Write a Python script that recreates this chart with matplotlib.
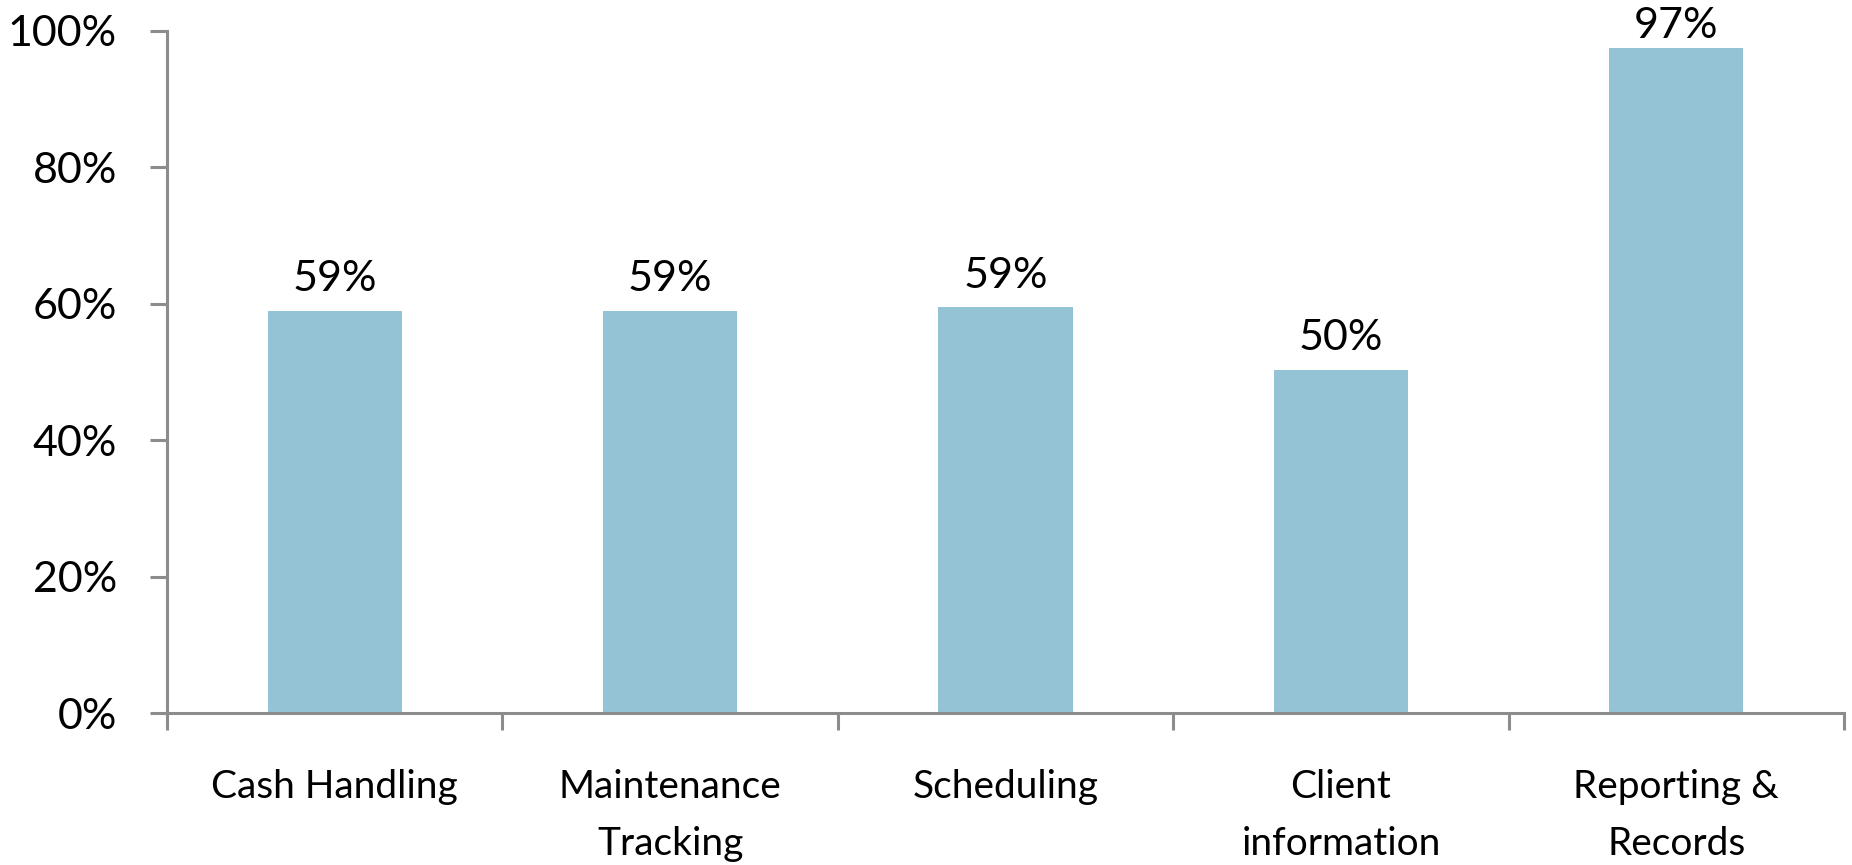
import matplotlib
matplotlib.use("Agg")
import matplotlib.pyplot as plt
from matplotlib.ticker import FuncFormatter, FixedLocator

categories = ["Cash Handling", "Maintenance\nTracking", "Scheduling", "Client\ninformation", "Reporting &\nRecords"]
values = [59.0, 59.0, 59.5, 50.3, 97.5]
value_labels = ["59%", "59%", "59%", "50%", "97%"]

plt.rcParams['font.family'] = ['Lato', 'DejaVu Sans']

bar_color = '#93c3d5'
axis_color = '#8c8c8c'
text_color = '#000000'

fig = plt.figure(figsize=(18.52, 8.65), dpi=100)
ax = fig.add_axes([0.0902, 0.1757, 0.9055, 0.7885])

x = list(range(len(categories)))
bars = ax.bar(x, values, width=0.40, color=bar_color, zorder=2)

for rect, lab in zip(bars, value_labels):
    h = rect.get_height()
    # labels near the top get squeezed down so they stay inside the figure
    off = 9 if h < 95 else 2
    ax.annotate(lab, (rect.get_x() + rect.get_width() / 2, h),
                xytext=(0, off), textcoords='offset points',
                ha='center', va='bottom', fontsize=31, color=text_color)

ax.set_xlim(-0.5, len(categories) - 0.5)
ax.set_ylim(0, 100)
ax.set_yticks([0, 20, 40, 60, 80, 100])
ax.yaxis.set_major_formatter(FuncFormatter(lambda v, _: f"{v:.0f}%"))

# category labels centred, ticks on the boundaries
ax.set_xticks(x)
ax.set_xticklabels(categories, fontsize=28, linespacing=1.75, color=text_color)
ax.xaxis.set_minor_locator(FixedLocator([i - 0.5 for i in range(len(categories) + 1)]))
ax.tick_params(axis='x', which='major', length=0, pad=40)
ax.tick_params(axis='x', which='minor', length=12, width=2.2, color=axis_color)
ax.tick_params(axis='y', length=12, width=2.2, color=axis_color, labelsize=31, pad=24,
               labelcolor=text_color)

for side in ['top', 'right']:
    ax.spines[side].set_visible(False)
for side in ['left', 'bottom']:
    ax.spines[side].set_color(axis_color)
    ax.spines[side].set_linewidth(2.2)

fig.savefig('out.png', dpi=100, facecolor='white')
